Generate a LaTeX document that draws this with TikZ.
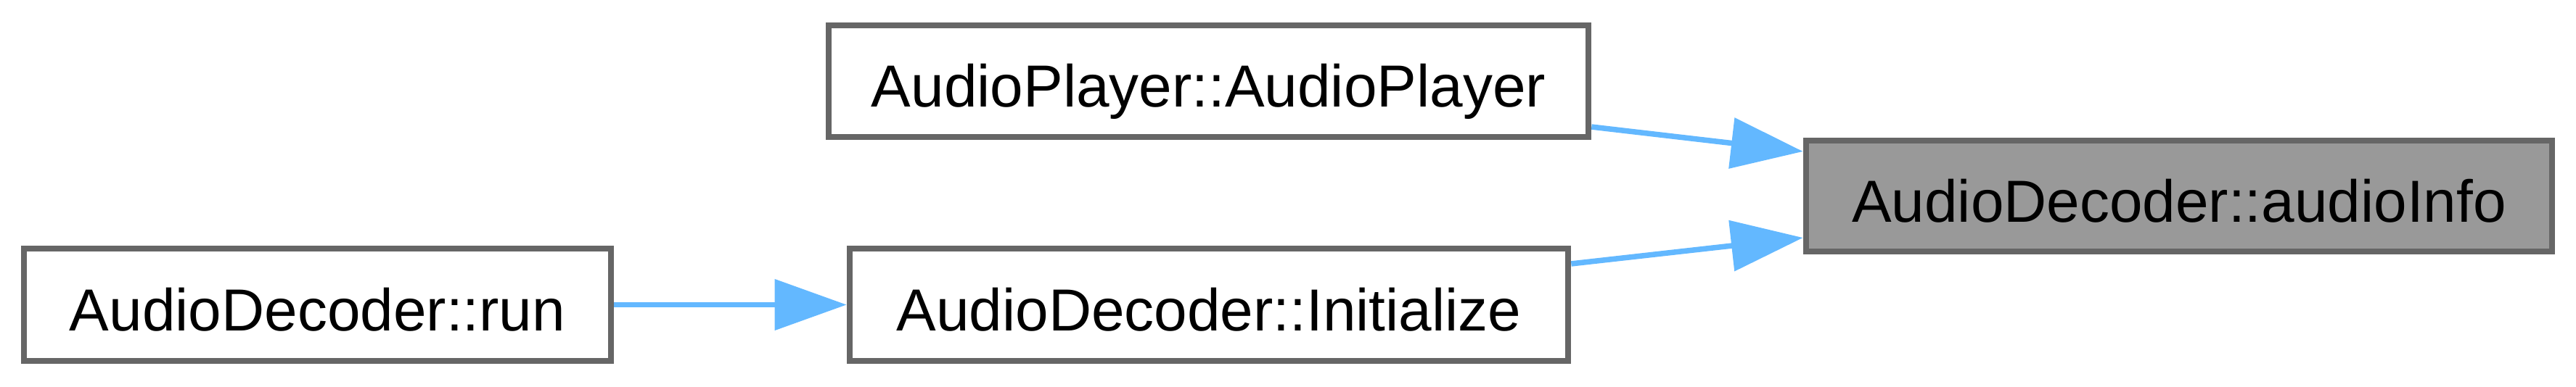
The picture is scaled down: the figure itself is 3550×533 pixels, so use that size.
\documentclass[tikz,border=0pt]{standalone}
\usepackage{fontspec}
\setmainfont{Liberation Sans}
\usetikzlibrary{arrows.meta}
\definecolor{edgegray}{HTML}{666666}
\definecolor{fillgray}{HTML}{999999}
\definecolor{arrowblue}{HTML}{63B8FF}
\tikzset{
  fnbox/.style={draw=edgegray, line width=0.08cm, fill=white, inner sep=0pt,
    minimum height=1.55cm, text height=0.71cm, text depth=0cm,
    font=\fontsize{23.3pt}{28pt}\selectfont},
  curbox/.style={fnbox, fill=fillgray},
  callarrow/.style={draw=arrowblue, line width=0.075cm,
    -{Triangle[length=0.99cm, width=0.69cm]}},
}
\begin{document}
\begin{tikzpicture}[x=0.01cm, y=-0.01cm]
\useasboundingbox (0,0) rectangle (3550,533);
\node[fnbox, minimum width=8.09cm] (run) at (437.5,420.5) {AudioDecoder::run};
\node[fnbox, minimum width=9.90cm] (init) at (1666,420.5) {AudioDecoder::Initialize};
\node[fnbox, minimum width=10.47cm, minimum height=1.54cm] (ap) at (1665.5,112) {AudioPlayer::AudioPlayer};
\node[curbox, minimum width=10.28cm, minimum height=1.53cm] (ai) at (3003,270.5) {AudioDecoder::audioInfo};
\draw[callarrow] (run.east) -- (init.west);
\draw[callarrow] ([yshift=-0.63cm]ap.east) -- ([yshift=0.615cm]ai.west);
\draw[callarrow] ([yshift=0.565cm]init.east) -- ([yshift=-0.575cm]ai.west);
\end{tikzpicture}
\end{document}
